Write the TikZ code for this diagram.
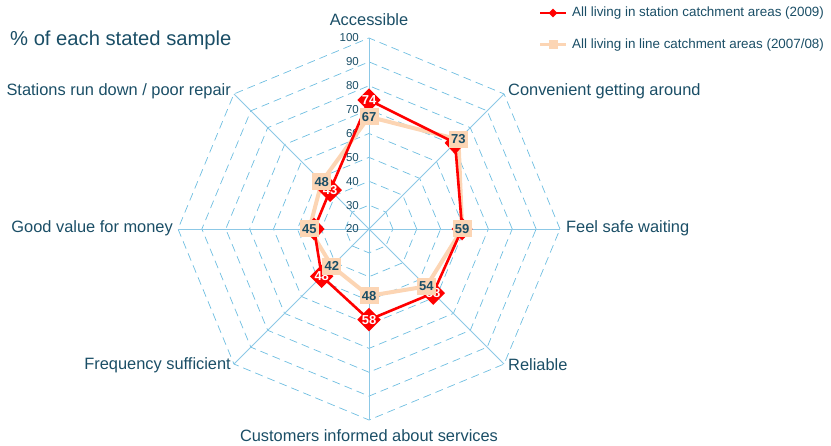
\documentclass[tikz,border=0pt]{standalone}
\usepackage{fontspec}
\setmainfont{Liberation Sans}
\usetikzlibrary{shapes.geometric}
\definecolor{txt}{RGB}{26,78,102}
\definecolor{gridc}{RGB}{110,190,225}
\definecolor{spokec}{RGB}{140,200,230}
\definecolor{redc}{RGB}{255,0,0}
\definecolor{tanc}{RGB}{252,213,180}
\tikzset{
  gridring/.style={draw=gridc, line width=0.7pt, dash pattern=on 8pt off 5pt},
  spoke/.style={draw=spokec, line width=0.8pt},
  scalelbl/.style={text=txt, font=\fontsize{11.5}{11.5}\selectfont, anchor=east, inner sep=0pt},
  axislbl/.style={text=txt, font=\fontsize{16.4}{17}\selectfont, inner sep=0pt},
  redline/.style={draw=redc, line width=2.6pt, line join=round},
  tanline/.style={draw=tanc, line width=4pt, line join=round},
  redmark/.style={diamond, fill=redc, inner sep=0pt, minimum width=21pt, minimum height=23pt, text=white, font=\bfseries\fontsize{13}{13}\selectfont},
  tanmark/.style={rectangle, fill=tanc, inner sep=0pt, minimum width=19pt, minimum height=17pt, text=txt, font=\bfseries\fontsize{13}{13}\selectfont},
  legtext/.style={text=txt, font=\fontsize{13.4}{13.4}\selectfont, anchor=west, inner sep=0pt}
}
\begin{document}
\begin{tikzpicture}[x=1pt,y=1pt]
\useasboundingbox (0,0) rectangle (831,-446);
\begin{scope}[shift={(369,-229)}]
  % grid rings
  \foreach \k in {1,...,8}
    \draw[gridring] (0:\k*23.875) \foreach \a in {45,90,...,315}{ -- (\a:\k*23.875)} -- cycle;
  % spokes
  \foreach \a in {0,45,...,315}
    \draw[spoke] (0,0) -- (\a:191);
  % scale labels
  \foreach \v in {20,30,...,100}
    \node[scalelbl] (s\v) at (-10,{(\v-20)*2.3875}) {\v};
  % data coordinates
  \foreach \v/\a [count=\i] in {74/90,71/45,59/0,58/-45,58/-90,48/-135,43/180,43/135}
    \coordinate (r\i) at ({\a}:{(\v-20)*2.3875});
  \foreach \v/\a [count=\i] in {67/90,73/45,59/0,54/-45,48/-90,42/-135,45/180,48/135}
    \coordinate (b\i) at ({\a}:{(\v-20)*2.3875});
\end{scope}
% axis labels
\node[axislbl] (axA) at (369,-20) {Accessible};
\node[axislbl, anchor=west] (axB) at (508,-91) {Convenient getting around};
\node[axislbl, anchor=west] (axC) at (566,-228) {Feel safe waiting};
\node[axislbl, anchor=west] (axD) at (508,-365) {Reliable};
\node[axislbl] (axE) at (369,-436) {Customers informed about services};
\node[axislbl, anchor=east] (axF) at (231,-365) {Frequency sufficient};
\node[axislbl, anchor=east] (axG) at (173,-228) {Good value for money};
\node[axislbl, anchor=east] (axH) at (231,-91) {Stations run down / poor repair};
% title
\node[text=txt, font=\fontsize{20.2}{20}\selectfont, anchor=west, inner sep=0pt] (title) at (10,-40) {\% of each stated sample};
% series lines
\draw[tanline] (b1) -- (b2) -- (b3) -- (b4) -- (b5) -- (b6) -- (b7) -- (b8) -- cycle;
\draw[redline] (r1) -- (r2) -- (r3) -- (r4) -- (r5) -- (r6) -- (r7) -- (r8) -- cycle;
% red markers
\node[redmark] (rm1) at (r1) {74};
\node[redmark] (rm2) at (r2) {};
\node[redmark] (rm3) at (r3) {};
\node[redmark] (rm4) at (r4) {58};
\node[redmark] (rm5) at (r5) {58};
\node[redmark] (rm6) at (r6) {48};
\node[redmark] (rm7) at (r7) {};
\node[redmark] (rm8) at (r8) {43};
% tan markers
\node[tanmark] (bm1) at (b1) {67};
\node[tanmark] (bm2) at (b2) {73};
\node[tanmark] (bm3) at (b3) {59};
\node[tanmark] (bm4) at (b4) {54};
\node[tanmark] (bm5) at (b5) {48};
\node[tanmark] (bm6) at (b6) {42};
\node[tanmark] (bm7) at (b7) {45};
\node[tanmark] (bm8) at (b8) {48};
% legend
\coordinate (l1a) at (540,-13); \coordinate (l1b) at (566,-13);
\draw[draw=redc, line width=2pt] (l1a) -- (l1b);
\node[diamond, fill=redc, inner sep=0pt, minimum size=9pt] (lm1) at (553,-13) {};
\node[legtext] (lt1) at (572,-13) {All living in station catchment areas (2009)};
\coordinate (l2a) at (540,-45); \coordinate (l2b) at (566,-45);
\draw[draw=tanc, line width=3pt] (l2a) -- (l2b);
\node[rectangle, fill=tanc, inner sep=0pt, minimum size=9pt] (lm2) at (553,-45) {};
\node[legtext] (lt2) at (572,-45) {All living in line catchment areas (2007/08)};
\end{tikzpicture}
\end{document}
